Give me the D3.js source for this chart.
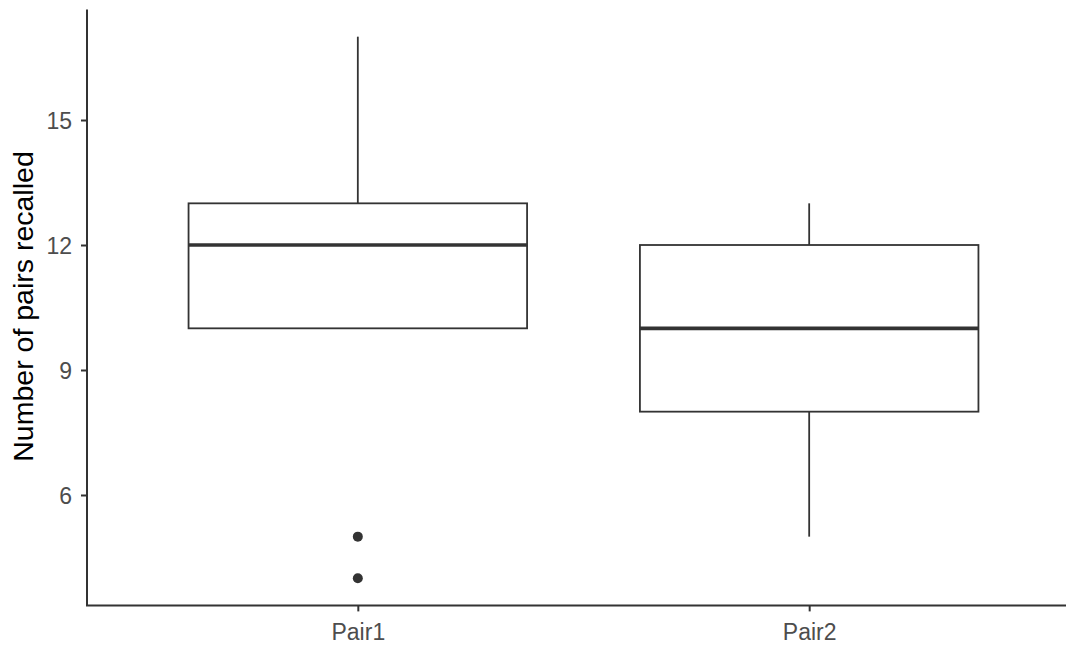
<!DOCTYPE html>
<html>
<head>
<meta charset="utf-8">
<script src="https://cdn.jsdelivr.net/npm/d3@7"></script>
<style>
  html, body { margin: 0; padding: 0; background: #fff; }
  svg { display: block; }
</style>
</head>
<body>
<svg id="chart" width="1066" height="646"></svg>
<script>
const categories = ["Pair1", "Pair2"];
const whiskerLow = [10, 5];
const q1 = [10, 8];
const median = [12, 10];
const q3 = [13, 12];
const whiskerHigh = [17, 13];
const outliers = [[5, 4], []];
const yTicks = [6, 9, 12, 15];
const yTitle = "Number of pairs recalled";

const svg = d3.select("#chart");
const plotLeft = 87, plotRight = 1080, plotTop = 9.6, plotBottom = 605.4;

const x = d3.scaleLinear().domain([0.4, 2.6]).range([plotLeft, plotRight]);
const y = d3.scaleLinear().domain([3.35, 17.65]).range([plotBottom, plotTop]);
const boxW = 0.75;
const font = "'Liberation Sans', Arial, sans-serif";
const stroke = "#333333";

const data = categories.map((c, i) => ({
  c, i: i + 1, lo: whiskerLow[i], q1: q1[i], med: median[i], q3: q3[i], hi: whiskerHigh[i], out: outliers[i]
}));

const g = svg.append("g");

// whiskers
g.selectAll(".wh-up").data(data).join("line")
  .attr("x1", d => x(d.i)).attr("x2", d => x(d.i))
  .attr("y1", d => y(d.q3)).attr("y2", d => y(d.hi))
  .attr("stroke", stroke).attr("stroke-width", 1.8);
g.selectAll(".wh-lo").data(data).join("line")
  .attr("x1", d => x(d.i)).attr("x2", d => x(d.i))
  .attr("y1", d => y(d.q1)).attr("y2", d => y(d.lo))
  .attr("stroke", stroke).attr("stroke-width", 1.8);

// boxes
g.selectAll(".box").data(data).join("rect")
  .attr("x", d => x(d.i - boxW / 2))
  .attr("width", d => x(d.i + boxW / 2) - x(d.i - boxW / 2))
  .attr("y", d => y(d.q3))
  .attr("height", d => y(d.q1) - y(d.q3))
  .attr("fill", "#ffffff").attr("stroke", stroke).attr("stroke-width", 1.8);

// medians
g.selectAll(".med").data(data).join("line")
  .attr("x1", d => x(d.i - boxW / 2)).attr("x2", d => x(d.i + boxW / 2))
  .attr("y1", d => y(d.med)).attr("y2", d => y(d.med))
  .attr("stroke", stroke).attr("stroke-width", 3.6);

// outliers
const outPts = data.flatMap(d => d.out.map(v => ({ i: d.i, v })));
g.selectAll(".out").data(outPts).join("circle")
  .attr("cx", d => x(d.i)).attr("cy", d => y(d.v)).attr("r", 5)
  .attr("fill", stroke);

// y axis
const yAxis = d3.axisLeft(y).tickValues(yTicks).tickSize(6).tickPadding(9).tickSizeOuter(0);
const ya = svg.append("g").attr("transform", `translate(${plotLeft},0)`).call(yAxis);
ya.select(".domain").remove();
ya.append("line").attr("x1", 0).attr("x2", 0).attr("y1", plotTop).attr("y2", plotBottom)
  .attr("stroke", stroke).attr("stroke-width", 2);
ya.selectAll(".tick line").attr("stroke", stroke).attr("stroke-width", 2);
ya.selectAll(".tick text").attr("fill", "#4d4d4d").attr("dy", "0.38em")
  .style("font-family", font).style("font-size", "23px");

// x axis
const xAxis = d3.axisBottom(x).tickValues([1, 2]).tickFormat(d => categories[d - 1])
  .tickSize(6).tickPadding(12).tickSizeOuter(0);
const xa = svg.append("g").attr("transform", `translate(0,${plotBottom})`).call(xAxis);
xa.select(".domain").remove();
xa.append("line").attr("x1", plotLeft - 1).attr("x2", plotRight).attr("y1", 0).attr("y2", 0)
  .attr("stroke", stroke).attr("stroke-width", 2);
xa.selectAll(".tick line").attr("stroke", stroke).attr("stroke-width", 2);
xa.selectAll(".tick text").attr("fill", "#4d4d4d").style("font-family", font).style("font-size", "23px");

// y title
svg.append("text")
  .attr("transform", `translate(33,${(148 + 465) / 2}) rotate(-90)`)
  .attr("text-anchor", "middle")
  .style("font-family", font).style("font-size", "28.5px").attr("fill", "#000")
  .text(yTitle);
</script>
</body>
</html>
